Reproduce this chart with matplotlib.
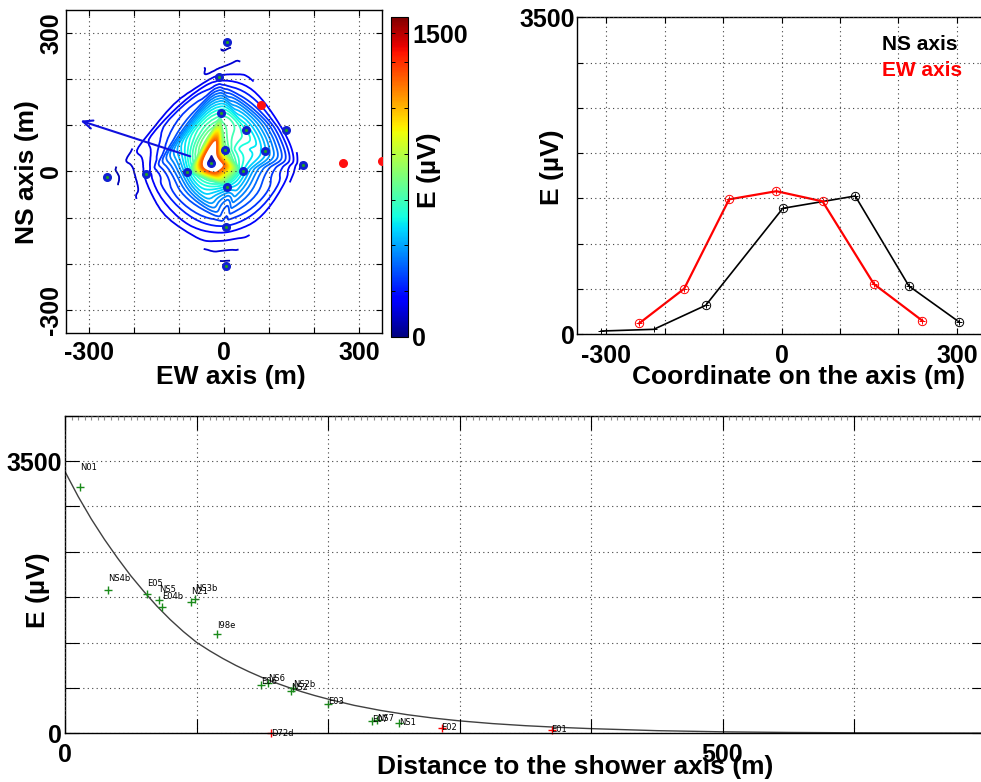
import numpy as np
import matplotlib
matplotlib.use("Agg")
import matplotlib.pyplot as plt
import matplotlib.tri as mtri
import matplotlib.colors as mcolors
from matplotlib import font_manager
from matplotlib.colorbar import ColorbarBase
from matplotlib.ticker import FixedLocator, FixedFormatter

plt.rcParams['font.family'] = ['Liberation Sans', 'DejaVu Sans']
plt.rcParams['font.weight'] = 'bold'
plt.rcParams['axes.linewidth'] = 1.0

# ---------------- data ----------------
# antenna array (triggered antennas): EW / NS position (m) and field (uV)
ant_ew = [7, -12, -6, 49, 137, 3, 90, -28, -81, -173, -259, 43, 7, 175, 5, 5]
ant_ns = [281, 205, 126, 90, 90, 46, 45, 18, -2, -6, -12, 2, -33, 14, -121, -204]
ant_E = [60, 170, 650, 600, 170, 800, 490, 1580, 530, 170, 50, 560, 550, 100, 230, 60]

# antennas without signal
off_ew = [82, 264, 350]
off_ns = [144, 19, 23]

# reconstructed core and projected shower axis
core_ew, core_ns = -28, 30
axis_start = (-69, 31)
axis_end = (-324, 112)

# profiles along the two array arms
ew_coord = [-244, -167, -90, -9, 70, 158, 241]
ew_E = [121, 503, 1490, 1580, 1468, 555, 150]
ns_coord = [-309, -219, -130, 2, 126, 218, 304]
ns_E = [36, 55, 320, 1391, 1527, 533, 136]

# lateral distribution
stations = ['N01', 'NS4b', 'E05', 'NS5', 'E04b', 'N21', 'NS3b', 'I98e', 'E06',
            'NS6', 'NS2', 'NS2b', 'E03', 'E07', 'NS7', 'NS1']
st_dist = [11.6, 32.9, 62.1, 71.2, 74.0, 95.8, 99.1, 115.8, 149.3,
           154.6, 171.9, 173.1, 200.2, 233.2, 237.0, 254.0]
st_E = [3169, 1845, 1785, 1711, 1626, 1686, 1729, 1278, 619,
        649, 546, 576, 374, 163, 172, 129]
bad_stations = ['D72d', 'E02', 'E01']
bad_dist = [156.4, 286.4, 370.0]
bad_E = [0, 72, 43]

# fitted lateral profile
fit_dist = [0, 10, 20, 30, 40, 50, 60, 70, 80, 90, 100, 110, 120, 130, 140, 150,
            160, 170, 180, 190, 200, 220, 240, 260, 280, 300, 325, 350, 375, 400,
            450, 500, 550, 600, 650, 700]
fit_E = [3365, 3045, 2755, 2493, 2252, 2026, 1823, 1633, 1462, 1308, 1170, 1061,
         962, 872, 791, 717, 650, 590, 535, 485, 440, 359, 294, 240, 196, 160,
         125, 98, 77, 60, 34, 19, 11, 6.4, 3.7, 2.1]

# ---------------- figure ----------------
W, H = 981, 782
fig = plt.figure(figsize=(W / 100, H / 100), dpi=100)


def box(l, t, r, b):
    return [l / W, 1 - b / H, (r - l) / W, (b - t) / H]


def ftext(x, y, s, **kw):
    fig.text(x / W, 1 - y / H, s, ha=kw.pop('ha', 'center'),
             va=kw.pop('va', 'center'), **kw)


TICK_FS = 18
LAB_FS = 19
grid_kw = dict(color='0.25', linestyle=(0, (1, 3)), linewidth=0.8)


def style_axes(ax, length):
    ax.tick_params(which='both', direction='in', top=True, right=True,
                   length=length, width=0.8, labelsize=TICK_FS)
    ax.grid(True, **grid_kw)
    ax.set_axisbelow(False)


def labelled_ticks(axis, ticks, shown):
    axis.set_major_locator(FixedLocator(ticks))
    axis.set_major_formatter(FixedFormatter(
        [('%d' % t) if t in shown else '' for t in ticks]))


# ---- map of the field ----
vmax = max(ant_E)
norm = mcolors.Normalize(0, vmax)
levels = np.arange(80, 1320, 40)

ax1 = fig.add_axes(box(66, 10, 382, 333))
tri = mtri.Triangulation(ant_ew, ant_ns)
interp = mtri.CubicTriInterpolator(tri, np.asarray(ant_E, float), kind='geom')
tri_f, E_f = mtri.UniformTriRefiner(tri).refine_field(
    np.asarray(ant_E, float), triinterpolator=interp, subdiv=4)
ax1.tricontour(tri_f, E_f, levels=levels, cmap='jet', norm=norm, linewidths=1.3)

ax1.annotate('', xy=axis_end, xytext=axis_start,
             arrowprops=dict(arrowstyle='->,head_length=0.7,head_width=0.3',
                             color='#1010dd', lw=1.5))
ax1.plot(ant_ew, ant_ns, 'o', color='#1020d0', ms=5.5, mec='#1020d0', zorder=5)
ax1.plot(ant_ew, ant_ns, '.', color='#20a020', ms=2.5, zorder=6)
ax1.plot(off_ew, off_ns, 'o', color='#ff1010', ms=5.5, zorder=5)
ax1.plot([core_ew], [core_ns], '^', color='#1010a0', ms=5, zorder=6)

ax1.set_xlim(-350, 350)
ax1.set_ylim(-350, 350)
style_axes(ax1, 4)
labelled_ticks(ax1.xaxis, range(-300, 301, 100), (-300, 0, 300))
labelled_ticks(ax1.yaxis, range(-300, 301, 100), (-300, 0, 300))
ax1.tick_params(axis='x', pad=6)
ax1.tick_params(axis='y', pad=2)
for t in ax1.get_yticklabels():
    t.set_rotation(90)
    t.set_va('center')

ftext(27, 172, 'NS axis (m)', rotation=90, fontsize=LAB_FS)
ftext(231, 377, 'EW axis (m)', fontsize=LAB_FS)

# colour bar
cax = fig.add_axes(box(391, 17, 408, 337))
cb = ColorbarBase(cax, cmap=plt.get_cmap('jet'), norm=norm)
cb.outline.set_linewidth(0.8)
cax.yaxis.set_major_locator(FixedLocator([0, 1500]))
cax.yaxis.set_minor_locator(FixedLocator([226 * k for k in range(1, 7)]))
cax.tick_params(which='both', direction='in', left=True, right=True,
                length=3, width=0.7, labelsize=TICK_FS, pad=3)
cax.set_yticklabels(['0', '1500'])
ftext(429, 170, 'E (µV)', rotation=90, fontsize=LAB_FS)

# ---- profiles ----
ax2 = fig.add_axes(box(577.3, 17.3, 986, 334.3))
ax2.plot(ns_coord, ns_E, '-', color='black', lw=1.2)
ax2.plot(ns_coord, ns_E, '+', color='black', ms=5, mew=0.7)
ax2.plot(ns_coord[2:], ns_E[2:], 'o', mfc='none', mec='black', ms=6, mew=0.7)
ax2.plot(ew_coord, ew_E, '-', color='red', lw=1.6)
ax2.plot(ew_coord, ew_E, '+', color='red', ms=5, mew=0.7)
ax2.plot(ew_coord, ew_E, 'o', mfc='none', mec='red', ms=6, mew=0.7)
ax2.set_xlim(-350, 350)
ax2.set_ylim(0, 3500)
style_axes(ax2, 4)
labelled_ticks(ax2.xaxis, range(-300, 301, 100), (-300, 0, 300))
labelled_ticks(ax2.yaxis, range(0, 3501, 500), (0, 3500))
ax2.tick_params(axis='x', pad=7)
ax2.tick_params(axis='y', pad=2)
ftext(552, 167, 'E (µV)', rotation=90, fontsize=LAB_FS)
ftext(799, 377, 'Coordinate on the axis (m)', fontsize=LAB_FS)
ftext(882, 45, 'NS axis', ha='left', fontsize=15, color='black')
ftext(882, 70, 'EW axis', ha='left', fontsize=15, color='red')

# ---- lateral distribution ----
ax3 = fig.add_axes(box(65, 415.7, 985.5, 733.3))
ax3.plot(fit_dist, fit_E, '-', color='0.25', lw=1.0)
ax3.plot(st_dist, st_E, '+', color='#1a8a1a', ms=6, mew=1.0)
ax3.plot(bad_dist, bad_E, '+', color='red', ms=6, mew=1.0, clip_on=False)

installed = {f.name for f in font_manager.fontManager.ttflist}
narrow = [f for f in ('Liberation Sans Narrow', 'DejaVu Sans Condensed')
          if f in installed]
small = dict(family=narrow + ['DejaVu Sans'], fontsize=7 if narrow else 6,
             fontweight='normal', color='black', ha='left', va='center')
for name, d, e in zip(stations + bad_stations, st_dist + bad_dist, st_E + bad_E):
    ax3.text(d, e * 1.08, name, **small)

ax3.set_xlim(0, 700)
ax3.set_ylim(0, 3500 * 7 / 6)
style_axes(ax3, 10)
labelled_ticks(ax3.xaxis, range(0, 701, 100), (0, 500))
yt = [3500 / 6 * k for k in range(8)]
ax3.yaxis.set_major_locator(FixedLocator(yt))
ax3.yaxis.set_major_formatter(FixedFormatter(['0', '', '', '', '', '', '3500', '']))
ax3.xaxis.set_minor_locator(FixedLocator(np.arange(0, 701, 5)))
ax3.tick_params(which='minor', bottom=False, top=True, length=3, color='0.55')
ax3.tick_params(axis='x', pad=7)
ax3.tick_params(axis='y', pad=2)
ftext(38, 590, 'E (µV)', rotation=90, fontsize=LAB_FS)
ftext(575, 767, 'Distance to the shower axis (m)', fontsize=LAB_FS)

fig.savefig('out.png', dpi=100)
